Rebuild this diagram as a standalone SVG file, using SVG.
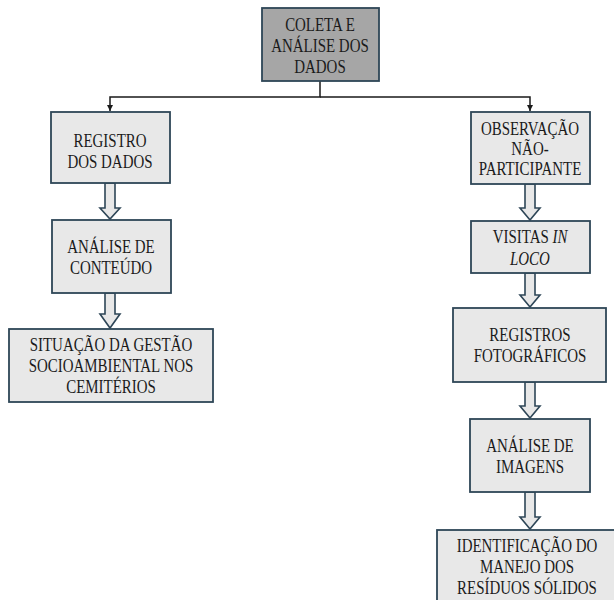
<svg xmlns="http://www.w3.org/2000/svg" width="614" height="600" viewBox="0 0 614 600">
<defs>
<style>
.box{fill:#e8e8e8;stroke:#2e4657;stroke-width:1.8}
.dark{fill:#a6a6a6}
.t{font-family:"Liberation Serif","Times New Roman","DejaVu Serif",serif;font-size:18px;fill:#1a1a1a;text-anchor:middle;transform-box:fill-box;transform-origin:center;transform:scaleX(0.83)}
.barrow{fill:#e8e8e8;stroke:#2e4657;stroke-width:1.6;stroke-linejoin:miter}
.line{fill:none;stroke:#1a1a1a;stroke-width:1.5}
</style>
<marker id="ah" viewBox="0 0 10 10" refX="10" refY="5" markerWidth="6" markerHeight="6" markerUnits="userSpaceOnUse" orient="auto">
<path d="M0,0 L10,5 L0,10 z" fill="#1a1a1a"/>
</marker>
</defs>
<rect width="614" height="600" fill="#ffffff"/>

<g id="connectors">
<path class="line" d="M320,81 V97 H110 V111" marker-end="url(#ah)"/>
<path class="line" d="M320,97 H530 V111" marker-end="url(#ah)"/>
<polygon class="barrow" points="105,183 115,183 115,208 120,208 110,219 100,208 105,208"/>
<polygon class="barrow" points="105,293 115,293 115,314 120,314 110,328 100,314 105,314"/>
<polygon class="barrow" points="525,184 535,184 535,208 540,208 530,220 520,208 525,208"/>
<polygon class="barrow" points="525,273 535,273 535,295 540,295 530,307 520,295 525,295"/>
<polygon class="barrow" points="525,382 535,382 535,406 540,406 530,418 520,406 525,406"/>
<polygon class="barrow" points="525,492 535,492 535,517 540,517 530,529 520,517 525,517"/>
</g>

<g id="n-coleta">
<rect class="box dark" x="262" y="8" width="117" height="73"/>
<text class="t" x="320" y="31">COLETA E</text>
<text class="t" x="320" y="52">ANÁLISE DOS</text>
<text class="t" x="320" y="73">DADOS</text>
</g>

<g id="n-registro">
<rect class="box" x="51" y="112" width="119" height="71"/>
<text class="t" x="110" y="147">REGISTRO</text>
<text class="t" x="110" y="168">DOS DADOS</text>
</g>

<g id="n-analise-conteudo">
<rect class="box" x="52" y="220" width="119" height="73"/>
<text class="t" x="111" y="253">ANÁLISE DE</text>
<text class="t" x="111" y="274">CONTEÚDO</text>
</g>

<g id="n-situacao">
<rect class="box" x="9" y="329" width="204" height="73"/>
<text class="t" x="111" y="351">SITUAÇÃO DA GESTÃO</text>
<text class="t" x="111" y="372">SOCIOAMBIENTAL NOS</text>
<text class="t" x="111" y="393">CEMITÉRIOS</text>
</g>

<g id="n-observacao">
<rect class="box" x="471" y="112" width="119" height="72"/>
<text class="t" x="530" y="135">OBSERVAÇÃO</text>
<text class="t" x="530" y="155">NÃO-</text>
<text class="t" x="530" y="175">PARTICIPANTE</text>
</g>

<g id="n-visitas">
<rect class="box" x="471" y="221" width="119" height="52"/>
<text class="t" x="530" y="243">VISITAS <tspan font-style="italic">IN</tspan></text>
<text class="t" x="530" y="265" font-style="italic">LOCO</text>
</g>

<g id="n-registros-foto">
<rect class="box" x="453" y="308" width="153" height="74"/>
<text class="t" x="530" y="341">REGISTROS</text>
<text class="t" x="530" y="362">FOTOGRÁFICOS</text>
</g>

<g id="n-analise-imagens">
<rect class="box" x="470" y="419" width="120" height="73"/>
<text class="t" x="530" y="452">ANÁLISE DE</text>
<text class="t" x="530" y="473">IMAGENS</text>
</g>

<g id="n-identificacao">
<rect class="box" x="437" y="530" width="182" height="80"/>
<text class="t" x="527" y="552">IDENTIFICAÇÃO DO</text>
<text class="t" x="527" y="573">MANEJO DOS</text>
<text class="t" x="527" y="594">RESÍDUOS SÓLIDOS</text>
</g>
</svg>
